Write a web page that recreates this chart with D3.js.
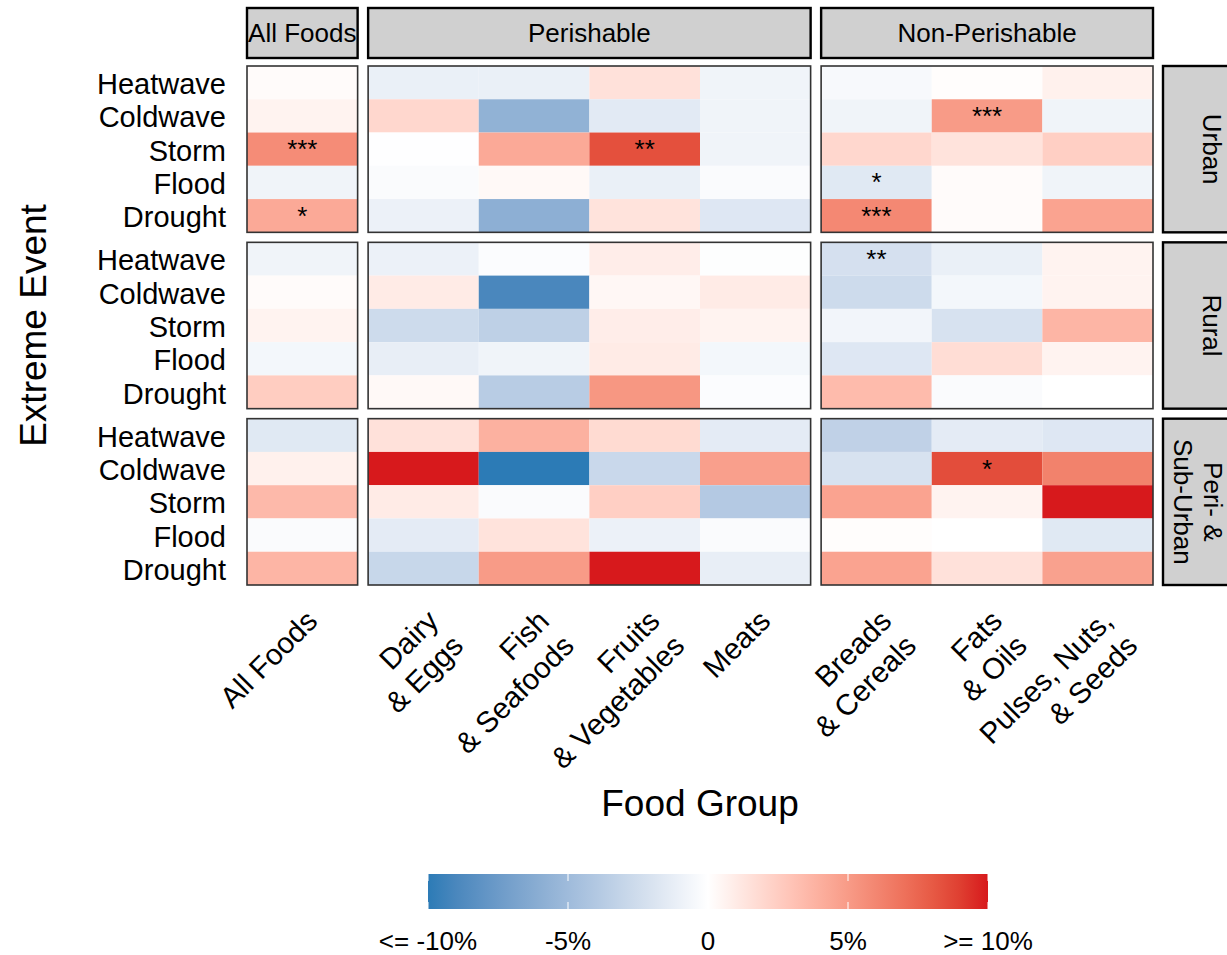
<!DOCTYPE html>
<html>
<head>
<meta charset="utf-8">
<script src="https://cdn.jsdelivr.net/npm/d3@7"></script>
<style>
  body { margin: 0; background: #fff; }
  svg { display: block; }
  text { font-family: "Liberation Sans", Arial, sans-serif; fill: #000; }
</style>
</head>
<body>
<svg id="chart" width="1227" height="955"></svg>
<script>
// ---- data -------------------------------------------------------------
const events = ["Heatwave", "Coldwave", "Storm", "Flood", "Drought"];
const areas = ["Urban", "Rural", "Peri- &\nSub-Urban"];
const foodGroups = ["All Foods", "Perishable", "Non-Perishable"];
const foods = ["All Foods", "Dairy\n& Eggs", "Fish\n& Seafoods", "Fruits\n& Vegetables", "Meats",
               "Breads\n& Cereals", "Fats\n& Oils", "Pulses, Nuts,\n& Seeds"];
const foodGroupOf = ["All Foods", "Perishable", "Perishable", "Perishable", "Perishable",
                     "Non-Perishable", "Non-Perishable", "Non-Perishable"];

// % change in food expenditure; rows follow `events`, columns follow `foods`
const urbanChange = [
  [ 0.2, -1.1, -1.1,  1.5, -0.8, -0.4,  0.1,  0.7],
  [ 0.6,  2.0, -5.7, -1.5, -0.8, -0.8,  5.0, -0.8],
  [ 5.7, -0.05, 4.3,  8.4, -0.8,  2.0,  1.4,  2.4],
  [-0.8, -0.25, 0.3, -1.1, -0.25, -1.6, 0.2, -0.8],
  [ 4.3, -1.0, -5.9,  1.4, -1.7,  5.9,  0.2,  4.6]
];
const ruralChange = [
  [-0.8, -1.0, -0.2,  0.9, -0.1, -2.2, -1.1,  0.6],
  [ 0.2,  1.0, -9.0,  0.4,  1.0, -2.6, -0.6,  0.6],
  [ 0.6, -2.6, -3.4,  0.9,  0.6, -0.7, -2.1,  3.7],
  [-0.6, -1.2, -0.8,  1.0, -0.6, -1.7,  1.7,  0.6],
  [ 2.5,  0.3, -3.7,  5.2, -0.2,  3.4, -0.25, 0.0]
];
const periUrbanChange = [
  [-1.6,  1.5,  3.9,  1.8, -1.4, -3.3, -1.4, -1.7],
  [ 0.7, 12.0, -12.0, -2.8,  4.8, -2.1,  8.5,  6.2],
  [ 3.5,  1.0, -0.25, 2.4, -3.9,  4.6,  0.6, 11.0],
  [-0.25, -1.4, 1.4, -1.0, -0.25, 0.1,  0.0, -1.6],
  [ 3.7, -2.9,  5.0, 11.0, -1.2,  4.6,  1.5,  4.7]
];
// significance markers
const urbanSig = [
  ["", "", "", "", "", "", "", ""],
  ["", "", "", "", "", "", "***", ""],
  ["***", "", "", "**", "", "", "", ""],
  ["", "", "", "", "", "*", "", ""],
  ["*", "", "", "", "", "***", "", ""]
];
const ruralSig = [
  ["", "", "", "", "", "**", "", ""],
  ["", "", "", "", "", "", "", ""],
  ["", "", "", "", "", "", "", ""],
  ["", "", "", "", "", "", "", ""],
  ["", "", "", "", "", "", "", ""]
];
const periUrbanSig = [
  ["", "", "", "", "", "", "", ""],
  ["", "", "", "", "", "", "*", ""],
  ["", "", "", "", "", "", "", ""],
  ["", "", "", "", "", "", "", ""],
  ["", "", "", "", "", "", "", ""]
];
const legendTicks = [-10, -5, 0, 5, 10];
const legendLabels = ["<= -10%", "-5%", "0", "5%", ">= 10%"];

const changeByArea = [urbanChange, ruralChange, periUrbanChange];
const sigByArea = [urbanSig, ruralSig, periUrbanSig];

// ---- layout -----------------------------------------------------------
const svg = d3.select("#chart");
const FONT_AXIS = 29, FONT_XAXIS = 29.5, FONT_STRIP = 26, FONT_TITLE = 37;

const panelLeft = 247, panelRight = 1153, gapX = 10.5;
const panelTop = 66, panelBottom = 585, gapY = 10;
const stripTop = 8, stripBottom = 58;
const rightStripLeft = 1163, rightStripRight = 1259;

const colCounts = foodGroups.map(g => foodGroupOf.filter(f => f === g).length);
const colW = (panelRight - panelLeft - gapX * (foodGroups.length - 1)) / d3.sum(colCounts);
const panelH = (panelBottom - panelTop - gapY * (areas.length - 1)) / areas.length;

// one band scale per facet column
let cursor = panelLeft;
const xScales = foodGroups.map((g, i) => {
  const dom = foods.filter((f, j) => foodGroupOf[j] === g);
  const s = d3.scaleBand().domain(dom).range([cursor, cursor + colW * dom.length]).padding(0);
  cursor += colW * dom.length + gapX;
  return s;
});
const yScales = areas.map((a, i) => {
  const y0 = panelTop + i * (panelH + gapY);
  return d3.scaleBand().domain(events).range([y0, y0 + panelH]).padding(0);
});

const color = d3.scaleLinear()
  .domain([-10, 0, 10])
  .range(["#2c7bb6", "#ffffff", "#d7191c"])
  .interpolate(d3.interpolateLab)
  .clamp(true);

// ---- tiles ------------------------------------------------------------
const cells = [];
areas.forEach((a, ai) => {
  events.forEach((e, ei) => {
    foods.forEach((f, fi) => {
      cells.push({
        area: ai, event: e, food: f,
        group: foodGroups.indexOf(foodGroupOf[fi]),
        value: changeByArea[ai][ei][fi],
        sig: sigByArea[ai][ei][fi]
      });
    });
  });
});

const tiles = svg.append("g");
tiles.selectAll("rect").data(cells).join("rect")
  .attr("x", d => xScales[d.group](d.food))
  .attr("y", d => yScales[d.area](d.event))
  .attr("width", d => xScales[d.group].bandwidth())
  .attr("height", d => yScales[d.area].bandwidth())
  .attr("fill", d => color(d.value));

tiles.selectAll("text").data(cells.filter(d => d.sig)).join("text")
  .attr("x", d => xScales[d.group](d.food) + xScales[d.group].bandwidth() / 2)
  .attr("y", d => yScales[d.area](d.event) + yScales[d.area].bandwidth() / 2)
  .attr("text-anchor", "middle")
  .attr("dominant-baseline", "central")
  .attr("font-size", 26)
  .text(d => d.sig);

// ---- panel borders ----------------------------------------------------
areas.forEach((a, ai) => {
  foodGroups.forEach((g, gi) => {
    const r = xScales[gi].range(), ry = yScales[ai].range();
    svg.append("rect")
      .attr("x", r[0]).attr("y", ry[0])
      .attr("width", r[1] - r[0]).attr("height", ry[1] - ry[0])
      .attr("fill", "none").attr("stroke", "#333").attr("stroke-width", 1.6);
  });
});

// ---- strips -----------------------------------------------------------
foodGroups.forEach((g, gi) => {
  const r = xScales[gi].range();
  svg.append("rect")
    .attr("x", r[0]).attr("y", stripTop)
    .attr("width", r[1] - r[0]).attr("height", stripBottom - stripTop)
    .attr("fill", "#d0d0d0").attr("stroke", "#000").attr("stroke-width", 2.4);
  svg.append("text")
    .attr("x", (r[0] + r[1]) / 2).attr("y", (stripTop + stripBottom) / 2)
    .attr("text-anchor", "middle").attr("dominant-baseline", "central")
    .attr("font-size", FONT_STRIP)
    .text(g);
});

areas.forEach((a, ai) => {
  const ry = yScales[ai].range();
  svg.append("rect")
    .attr("x", rightStripLeft).attr("y", ry[0])
    .attr("width", rightStripRight - rightStripLeft).attr("height", ry[1] - ry[0])
    .attr("fill", "#d0d0d0").attr("stroke", "#000").attr("stroke-width", 2.4);
  const lines = a.split("\n");
  const lh = 30;
  const cx = lines.length > 1 ? 1198 : 1212;
  const t = svg.append("text")
    .attr("transform", `translate(${cx},${(ry[0] + ry[1]) / 2}) rotate(90)`)
    .attr("text-anchor", "middle")
    .attr("font-size", FONT_STRIP);
  lines.forEach((ln, li) => {
    t.append("tspan")
      .attr("x", 0)
      .attr("y", (li - (lines.length - 1) / 2) * lh)
      .attr("dominant-baseline", "central")
      .text(ln);
  });
});

// ---- y axis labels ----------------------------------------------------
areas.forEach((a, ai) => {
  svg.append("g").selectAll("text").data(events).join("text")
    .attr("x", 226)
    .attr("y", d => yScales[ai](d) + yScales[ai].bandwidth() / 2 + 1.5)
    .attr("text-anchor", "end")
    .attr("dominant-baseline", "central")
    .attr("font-size", FONT_AXIS)
    .text(d => d);
});

// ---- x axis labels (rotated 45°) --------------------------------------
foods.forEach((f, fi) => {
  const gi = foodGroups.indexOf(foodGroupOf[fi]);
  const cx = xScales[gi](f) + xScales[gi].bandwidth() / 2;
  const t = svg.append("text")
    .attr("transform", `translate(${cx + 2},${608}) rotate(-45)`)
    .attr("text-anchor", "end")
    .attr("font-size", FONT_XAXIS);
  f.split("\n").forEach((ln, li) => {
    t.append("tspan").attr("x", 0).attr("y", 21 + li * 35).text(ln);
  });
});

// ---- axis titles ------------------------------------------------------
svg.append("text")
  .attr("transform", `translate(33,${(panelTop + panelBottom) / 2}) rotate(-90)`)
  .attr("text-anchor", "middle").attr("dominant-baseline", "central")
  .attr("font-size", FONT_TITLE)
  .text("Extreme Event");
svg.append("text")
  .attr("x", (panelLeft + panelRight) / 2).attr("y", 803)
  .attr("text-anchor", "middle").attr("dominant-baseline", "central")
  .attr("font-size", FONT_TITLE)
  .text("Food Group");

// ---- colour bar legend ------------------------------------------------
const legX = d3.scaleLinear().domain([-10, 10]).range([428, 988]);
const barTop = 874, barBottom = 909;
const grad = svg.append("defs").append("linearGradient")
  .attr("id", "legendGradient").attr("x1", "0%").attr("x2", "100%");
d3.range(0, 21).forEach(i => {
  const v = -10 + i;
  grad.append("stop").attr("offset", `${i * 5}%`).attr("stop-color", color(v));
});
svg.append("rect")
  .attr("x", legX(-10)).attr("y", barTop)
  .attr("width", legX(10) - legX(-10)).attr("height", barBottom - barTop)
  .attr("fill", "url(#legendGradient)");
const tickLen = 7;
const tg = svg.append("g").attr("stroke", "#fff").attr("stroke-width", 1);
legendTicks.forEach(v => {
  tg.append("line").attr("x1", legX(v)).attr("x2", legX(v)).attr("y1", barTop).attr("y2", barTop + tickLen);
  tg.append("line").attr("x1", legX(v)).attr("x2", legX(v)).attr("y1", barBottom - tickLen).attr("y2", barBottom);
});
svg.append("g").selectAll("text").data(legendTicks).join("text")
  .attr("x", d => legX(d)).attr("y", 941)
  .attr("text-anchor", "middle").attr("dominant-baseline", "central")
  .attr("font-size", 26)
  .text((d, i) => legendLabels[i]);
</script>
</body>
</html>
